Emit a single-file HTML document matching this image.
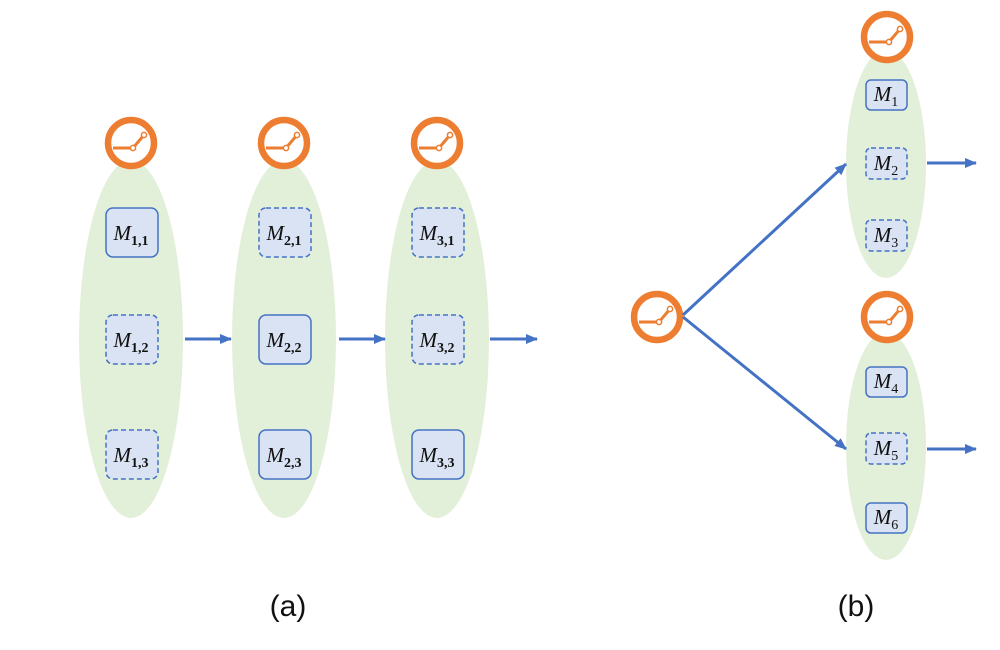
<!DOCTYPE html>
<html><head><meta charset="utf-8"><style>body{margin:0;background:#fff}svg{display:block}</style></head><body>
<svg width="1000" height="650" viewBox="0 0 1000 650" xmlns="http://www.w3.org/2000/svg">
<defs>
<marker id="ar" markerWidth="12" markerHeight="10" refX="11" refY="5" orient="auto" markerUnits="userSpaceOnUse"><path d="M0,0 L12,5 L0,10 z" fill="#4472C4"/></marker>
<g id="clk">
<circle cx="0" cy="0" r="23" fill="#fff" stroke="#ED7D31" stroke-width="6.5"/>
<polyline points="-18,5 2,5 13,-8" fill="none" stroke="#ED7D31" stroke-width="3"/>
<circle cx="2" cy="5" r="2.6" fill="#fff" stroke="#ED7D31" stroke-width="1.5"/>
<circle cx="13" cy="-8" r="2.6" fill="#fff" stroke="#ED7D31" stroke-width="1.5"/>
</g>
</defs>
<g fill="#E2F0D9">
<ellipse cx="131" cy="339" rx="52" ry="179"/>
<ellipse cx="284" cy="339" rx="52" ry="179"/>
<ellipse cx="437" cy="339" rx="52" ry="179"/>
<ellipse cx="886" cy="164" rx="40" ry="114"/>
<ellipse cx="886" cy="446" rx="40" ry="114"/>
</g>
<use href="#clk" x="131" y="143"/>
<use href="#clk" x="284" y="143"/>
<use href="#clk" x="437" y="143"/>
<use href="#clk" x="887" y="37"/>
<use href="#clk" x="887" y="317"/>
<use href="#clk" x="657" y="317"/>
<g stroke="#4472C4" stroke-width="3" fill="none" marker-end="url(#ar)">
<line x1="185" y1="339" x2="231" y2="339"/>
<line x1="339" y1="339" x2="385" y2="339"/>
<line x1="490" y1="339" x2="537" y2="339"/>
<line x1="683" y1="315" x2="846" y2="164"/>
<line x1="683" y1="317" x2="846" y2="449"/>
<line x1="927" y1="163" x2="976" y2="163"/>
<line x1="927" y1="449" x2="976" y2="449"/>
</g>
<g fill="#DAE3F3" stroke="#4472C4" stroke-width="1.5">
<rect x="106" y="208" width="52" height="49" rx="7"/>
<rect x="106" y="315" width="52" height="49" rx="7" stroke-dasharray="5,3"/>
<rect x="106" y="430" width="52" height="49" rx="7" stroke-dasharray="5,3"/>
<rect x="259" y="208" width="52" height="49" rx="7" stroke-dasharray="5,3"/>
<rect x="259" y="315" width="52" height="49" rx="7"/>
<rect x="259" y="430" width="52" height="49" rx="7"/>
<rect x="412" y="208" width="52" height="49" rx="7" stroke-dasharray="5,3"/>
<rect x="412" y="315" width="52" height="49" rx="7" stroke-dasharray="5,3"/>
<rect x="412" y="430" width="52" height="49" rx="7"/>
<rect x="866" y="80" width="41" height="30" rx="5"/>
<rect x="866" y="148" width="41" height="31" rx="5" stroke-dasharray="5,3"/>
<rect x="866" y="220" width="41" height="31" rx="5" stroke-dasharray="5,3"/>
<rect x="866" y="367" width="41" height="30" rx="5"/>
<rect x="866" y="433" width="41" height="31" rx="5" stroke-dasharray="5,3"/>
<rect x="866" y="503" width="41" height="30" rx="5"/>
</g>
<g font-family="Liberation Serif, serif" font-style="italic" font-size="21" fill="#111" text-anchor="middle">
<text x="131" y="240">M<tspan font-size="14" font-style="normal" font-weight="bold" dy="5">1,1</tspan></text>
<text x="131" y="347">M<tspan font-size="14" font-style="normal" font-weight="bold" dy="5">1,2</tspan></text>
<text x="131" y="462">M<tspan font-size="14" font-style="normal" font-weight="bold" dy="5">1,3</tspan></text>
<text x="284" y="240">M<tspan font-size="14" font-style="normal" font-weight="bold" dy="5">2,1</tspan></text>
<text x="284" y="347">M<tspan font-size="14" font-style="normal" font-weight="bold" dy="5">2,2</tspan></text>
<text x="284" y="462">M<tspan font-size="14" font-style="normal" font-weight="bold" dy="5">2,3</tspan></text>
<text x="437" y="240">M<tspan font-size="14" font-style="normal" font-weight="bold" dy="5">3,1</tspan></text>
<text x="437" y="347">M<tspan font-size="14" font-style="normal" font-weight="bold" dy="5">3,2</tspan></text>
<text x="437" y="462">M<tspan font-size="14" font-style="normal" font-weight="bold" dy="5">3,3</tspan></text>
<text x="886" y="101">M<tspan font-size="14" font-style="normal" dy="5">1</tspan></text>
<text x="886" y="170">M<tspan font-size="14" font-style="normal" dy="5">2</tspan></text>
<text x="886" y="242">M<tspan font-size="14" font-style="normal" dy="5">3</tspan></text>
<text x="886" y="388">M<tspan font-size="14" font-style="normal" dy="5">4</tspan></text>
<text x="886" y="455">M<tspan font-size="14" font-style="normal" dy="5">5</tspan></text>
<text x="886" y="524">M<tspan font-size="14" font-style="normal" dy="5">6</tspan></text>
</g>
<g font-family="Liberation Sans, sans-serif" font-size="30" fill="#111" text-anchor="middle">
<text x="288" y="616">(a)</text>
<text x="856" y="616">(b)</text>
</g>
</svg>
</body></html>
